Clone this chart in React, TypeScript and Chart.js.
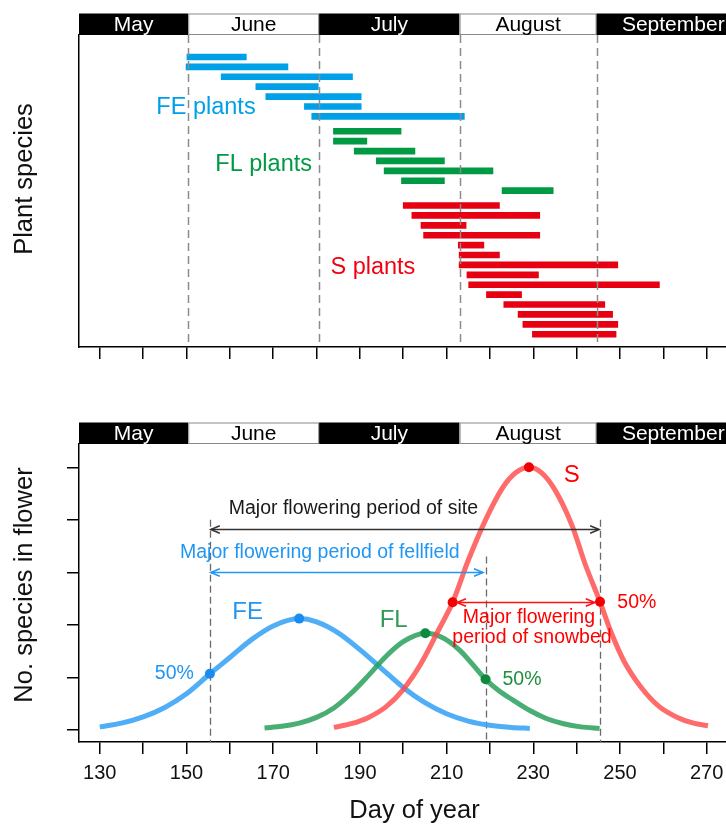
import React, { useEffect, useRef } from 'react';
import { Chart, registerables } from 'chart.js';

Chart.register(...registerables);

const FONT = '"Liberation Sans", Arial, Helvetica, sans-serif';

// ---------- Shared axis data ----------
const monthNames = ['May', 'June', 'July', 'August', 'September'];
const monthEdges = [150.4, 180.6, 213.0, 244.6]; // day-of-year boundaries between months
const xTickDays = [130, 140, 150, 160, 170, 180, 190, 200, 210, 220, 230, 240, 250, 260, 270];
const xLabelDays = [130, 150, 170, 190, 210, 230, 250, 270];
const yCountTicks = [0, 1, 2, 3, 4, 5];

// ---------- Top panel: flowering period of each species ----------
const feRows = [1, 2, 3, 4, 5, 6, 7];
const feStart = [150.1, 149.9, 158.0, 166.0, 168.3, 177.2, 178.9];
const feEnd = [163.8, 173.4, 188.3, 180.4, 190.3, 190.3, 214.1];

const flRows = [8.5, 9.5, 10.5, 11.5, 12.5, 13.5, 14.5];
const flStart = [183.9, 183.9, 188.7, 193.8, 195.6, 199.6, 222.8];
const flEnd = [199.5, 191.6, 202.7, 209.5, 220.7, 209.5, 234.6];

const sRows = [16, 17, 18, 19, 20, 21, 22, 23, 24, 25, 26, 27, 28, 29];
const sStart = [200.0, 202.0, 204.1, 204.7, 212.7, 212.9, 212.9, 214.7, 215.1, 219.2, 223.2, 226.5, 227.6, 229.8];
const sEnd = [222.2, 231.5, 214.5, 231.5, 218.6, 222.2, 249.5, 231.2, 259.1, 227.3, 246.5, 248.3, 249.5, 249.1];

// ---------- Bottom panel: number of species in flower ----------
const feDays = [130, 135, 140, 145, 150, 155.4, 160, 165, 170, 176, 180, 185, 190, 195, 200, 205, 210, 215, 220, 225, 229.2];
const feVals = [0.06, 0.13, 0.25, 0.43, 0.69, 1.07, 1.38, 1.72, 1.98, 2.12, 2.06, 1.85, 1.53, 1.17, 0.81, 0.52, 0.31, 0.17, 0.09, 0.05, 0.03];

const flDays = [168, 172, 176, 180, 184, 188, 192, 196, 200, 205.1, 209, 213, 216, 219, 222, 225.3, 229, 233, 237, 241, 245.3];
const flVals = [0.04, 0.07, 0.13, 0.24, 0.42, 0.7, 1.04, 1.4, 1.68, 1.84, 1.76, 1.52, 1.25, 0.965, 0.75, 0.57, 0.38, 0.22, 0.12, 0.06, 0.03];

const sDays = [184, 188, 192, 196, 200, 204, 208, 211.4, 215, 219, 223, 226, 229, 232, 235, 239, 242, 245.4, 248, 251, 255, 259, 263, 267, 270.3];
const sVals = [0.05, 0.12, 0.24, 0.44, 0.77, 1.25, 1.88, 2.43, 3.23, 4.0, 4.62, 4.9, 5.0, 4.89, 4.57, 3.88, 3.15, 2.44, 1.85, 1.3, 0.8, 0.45, 0.25, 0.13, 0.08];

// peak and 50% points
const feMarkDays = [176, 155.4];
const feMarkVals = [2.12, 1.07];
const flMarkDays = [205.1, 219];
const flMarkVals = [1.84, 0.965];
const sMarkDays = [229, 211.4, 245.4];
const sMarkVals = [5.0, 2.43, 2.44];

// annotation content (day / count units)
const periodLines = [
  { day: 155.5, top: 4.0 },
  { day: 219.0, top: 3.3 },
  { day: 245.4, top: 4.0 },
];
const periodArrows = [
  { from: 155.6, to: 245.2, y: 3.82, color: '#333333' },
  { from: 155.6, to: 218.4, y: 3.0, color: '#2196f3' },
  { from: 212.4, to: 244.2, y: 2.44, color: '#ff1010' },
];
const bottomTexts = [
  { text: 'Major flowering period of site', day: 188.5, y: 4.22, color: '#1a1a1a', size: 19.5 },
  { text: 'Major flowering period of fellfield', day: 180.75, y: 3.37, color: '#2196f3', size: 19.5 },
  { text: 'Major flowering', day: 229.0, y: 2.13, color: '#ff0000', size: 19.5 },
  { text: 'period of snowbed', day: 229.7, y: 1.76, color: '#ff0000', size: 19.5 },
  { text: 'S', day: 238.9, y: 4.85, color: '#ff0000', size: 24 },
  { text: '50%', day: 253.9, y: 2.42, color: '#ff0000', size: 19.5 },
  { text: 'FE', day: 164.1, y: 2.23, color: '#2196f3', size: 24 },
  { text: 'FL', day: 197.8, y: 2.09, color: '#2e9a55', size: 24 },
  { text: '50%', day: 147.2, y: 1.07, color: '#2196f3', size: 19.5 },
  { text: '50%', day: 227.4, y: 0.95, color: '#1f8f3f', size: 19.5 },
];
const topTexts = [
  { text: 'FE plants', day: 154.5, row: 6.15, color: '#00a0e9', size: 23.5 },
  { text: 'FL plants', day: 167.8, row: 11.9, color: '#009944', size: 23.5 },
  { text: 'S plants', day: 193.0, row: 22.3, color: '#f00010', size: 23.5 },
];

const X_MIN = 125.2;
const X_MAX = 280;

function drawMonthBand(chart: any) {
  const { ctx, chartArea, scales } = chart;
  const x = scales.x;
  const h = 21.5;
  const top = chartArea.top - h;
  const edges = [chartArea.left, ...monthEdges.map((d) => x.getPixelForValue(d)), chartArea.right];
  ctx.save();
  for (let i = 0; i < monthNames.length; i++) {
    const x0 = edges[i];
    const x1 = edges[i + 1];
    const dark = i % 2 === 0;
    ctx.fillStyle = dark ? '#000000' : '#ffffff';
    ctx.fillRect(x0, top, x1 - x0, h);
    if (!dark) {
      ctx.strokeStyle = '#8a8a8a';
      ctx.lineWidth = 1;
      ctx.strokeRect(x0 + 0.5, top + 0.5, x1 - x0 - 1, h - 1);
    }
    ctx.fillStyle = dark ? '#ffffff' : '#000000';
    ctx.font = `21px ${FONT}`;
    ctx.textAlign = 'center';
    ctx.textBaseline = 'middle';
    ctx.fillText(monthNames[i], (x0 + x1) / 2, top + h / 2 + 0.5);
  }
  ctx.restore();
}

function drawYTitle(chart: any, text: string, cy: number) {
  const ctx = chart.ctx;
  ctx.save();
  ctx.translate(24.5, cy);
  ctx.rotate(-Math.PI / 2);
  ctx.font = `25.5px ${FONT}`;
  ctx.fillStyle = '#111111';
  ctx.textAlign = 'center';
  ctx.textBaseline = 'middle';
  ctx.fillText(text, 0, 0);
  ctx.restore();
}

const topPlugin = {
  id: 'topDecor',
  afterDatasetsDraw(chart: any) {
    const { ctx, chartArea, scales } = chart;
    ctx.save();
    for (const t of topTexts) {
      ctx.font = `${t.size}px ${FONT}`;
      ctx.fillStyle = t.color;
      ctx.textAlign = 'center';
      ctx.textBaseline = 'middle';
      ctx.fillText(t.text, scales.x.getPixelForValue(t.day), scales.y.getPixelForValue(t.row));
    }
    ctx.strokeStyle = '#8c8c8c';
    ctx.lineWidth = 1.5;
    ctx.setLineDash([8, 5]);
    for (const d of monthEdges) {
      const px = Math.round(scales.x.getPixelForValue(d)) + 0.5;
      ctx.beginPath();
      ctx.moveTo(px, chartArea.top);
      ctx.lineTo(px, chartArea.bottom);
      ctx.stroke();
    }
    ctx.restore();
  },
  afterDraw(chart: any) {
    drawMonthBand(chart);
    drawYTitle(chart, 'Plant species', chart.chartArea.top + 144);
  },
};

function drawArrowHead(ctx: any, tipX: number, y: number, dir: number) {
  ctx.beginPath();
  ctx.moveTo(tipX + dir * 9, y - 3.8);
  ctx.lineTo(tipX, y);
  ctx.lineTo(tipX + dir * 9, y + 3.8);
  ctx.stroke();
}

const bottomPlugin = {
  id: 'bottomDecor',
  beforeDatasetsDraw(chart: any) {
    const { ctx, chartArea, scales } = chart;
    ctx.save();
    ctx.strokeStyle = '#6a6a6a';
    ctx.lineWidth = 1.3;
    ctx.setLineDash([7, 4]);
    for (const l of periodLines) {
      const px = Math.round(scales.x.getPixelForValue(l.day)) + 0.5;
      ctx.beginPath();
      ctx.moveTo(px, scales.y.getPixelForValue(l.top));
      ctx.lineTo(px, chartArea.bottom);
      ctx.stroke();
    }
    ctx.restore();
  },
  afterDatasetsDraw(chart: any) {
    const { ctx, scales } = chart;
    ctx.save();
    ctx.setLineDash([]);
    for (const a of periodArrows) {
      const x0 = scales.x.getPixelForValue(a.from);
      const x1 = scales.x.getPixelForValue(a.to);
      const y = Math.round(scales.y.getPixelForValue(a.y)) + 0.5;
      ctx.strokeStyle = a.color;
      ctx.lineWidth = 1.5;
      ctx.beginPath();
      ctx.moveTo(x0, y);
      ctx.lineTo(x1, y);
      ctx.stroke();
      drawArrowHead(ctx, x0, y, 1);
      drawArrowHead(ctx, x1, y, -1);
    }
    for (const t of bottomTexts) {
      ctx.font = `${t.size}px ${FONT}`;
      ctx.fillStyle = t.color;
      ctx.textAlign = 'center';
      ctx.textBaseline = 'middle';
      ctx.fillText(t.text, scales.x.getPixelForValue(t.day), scales.y.getPixelForValue(t.y));
    }
    ctx.restore();
  },
  afterDraw(chart: any) {
    drawMonthBand(chart);
    drawYTitle(chart, 'No. species in flower', chart.chartArea.top + 141);
  },
};

const toBars = (rows: number[], s: number[], e: number[]) => rows.map((r, i) => ({ x: [s[i], e[i]], y: r }));
const toPts = (xs: number[], ys: number[]) => xs.map((d, i) => ({ x: d, y: ys[i] }));

const axisX = (height: number, showLabels: boolean) => ({
  type: 'linear',
  position: 'bottom',
  min: X_MIN,
  max: X_MAX,
  beginAtZero: false,
  afterBuildTicks: (axis: any) => {
    axis.ticks = xTickDays.map((v) => ({ value: v }));
  },
  afterFit: (s: any) => {
    s.height = height;
  },
  ticks: {
    display: showLabels,
    padding: 7,
    color: '#111111',
    font: { size: 20, family: FONT },
    maxRotation: 0,
    autoSkip: false,
    callback: (v: any) => (xLabelDays.includes(Number(v)) ? String(v) : ''),
  },
  grid: { display: true, drawOnChartArea: false, drawTicks: true, tickLength: 12, color: '#000000', lineWidth: 1.5 },
  border: { display: true, color: '#000000', width: 1.5 },
  title: {
    display: showLabels,
    text: 'Day of year',
    color: '#111111',
    font: { size: 25.5, family: FONT },
    padding: { top: 0, bottom: -1.5 },
  },
});

export default function App() {
  const topRef = useRef<HTMLCanvasElement>(null);
  const botRef = useRef<HTMLCanvasElement>(null);

  useEffect(() => {
    Chart.defaults.font.family = FONT;
    const top = new Chart(topRef.current as HTMLCanvasElement, {
      type: 'bar',
      data: {
        datasets: [
          { data: toBars(feRows, feStart, feEnd), backgroundColor: '#00a0e9', borderWidth: 0, grouped: false, barThickness: 6 },
          { data: toBars(flRows, flStart, flEnd), backgroundColor: '#009944', borderWidth: 0, grouped: false, barThickness: 6 },
          { data: toBars(sRows, sStart, sEnd), backgroundColor: '#e60012', borderWidth: 0, grouped: false, barThickness: 6 },
        ] as any,
      },
      options: {
        indexAxis: 'y',
        responsive: false,
        animation: false,
        events: [],
        layout: { padding: { top: 35, right: 10, left: 0, bottom: 0 } },
        plugins: { legend: { display: false }, tooltip: { enabled: false } },
        scales: {
          x: axisX(53, false) as any,
          y: {
            type: 'linear',
            reverse: true,
            min: -1.22,
            max: 30.29,
            offset: false,
            afterFit: (s: any) => {
              s.width = 79;
            },
            ticks: { display: false },
            grid: { display: false, offset: false },
            border: { display: true, color: '#000000', width: 1.5 },
          } as any,
        },
      },
      plugins: [topPlugin],
    });

    const bottom = new Chart(botRef.current as HTMLCanvasElement, {
      type: 'line',
      data: {
        datasets: [
          { data: toPts(feMarkDays, feMarkVals), showLine: false, pointRadius: 5, pointBackgroundColor: '#1a8cf0', pointBorderWidth: 0, order: 0 },
          { data: toPts(flMarkDays, flMarkVals), showLine: false, pointRadius: 5, pointBackgroundColor: '#0d8a3e', pointBorderWidth: 0, order: 0 },
          { data: toPts(sMarkDays, sMarkVals), showLine: false, pointRadius: 5, pointBackgroundColor: '#f00000', pointBorderWidth: 0, order: 0 },
          { data: toPts(sDays, sVals), borderColor: 'rgba(255,70,70,0.8)', borderWidth: 5, pointRadius: 0, cubicInterpolationMode: 'monotone', order: 1 },
          { data: toPts(flDays, flVals), borderColor: 'rgba(40,160,90,0.85)', borderWidth: 5, pointRadius: 0, cubicInterpolationMode: 'monotone', order: 2 },
          { data: toPts(feDays, feVals), borderColor: 'rgba(60,165,245,0.9)', borderWidth: 5, pointRadius: 0, cubicInterpolationMode: 'monotone', order: 3 },
        ] as any,
      },
      options: {
        responsive: false,
        animation: false,
        events: [],
        layout: { padding: { top: 44, right: 10, left: 0, bottom: 0 } },
        plugins: { legend: { display: false }, tooltip: { enabled: false } },
        scales: {
          x: axisX(83, true) as any,
          y: {
            type: 'linear',
            min: -0.228,
            max: 5.443,
            afterBuildTicks: (axis: any) => {
              axis.ticks = yCountTicks.map((v) => ({ value: v }));
            },
            afterFit: (s: any) => {
              s.width = 79;
            },
            ticks: { display: false },
            grid: { display: true, drawOnChartArea: false, drawTicks: true, tickLength: 12, color: '#000000', lineWidth: 1.5 },
            border: { display: true, color: '#000000', width: 1.5 },
          } as any,
        },
      },
      plugins: [bottomPlugin],
    });

    return () => {
      top.destroy();
      bottom.destroy();
    };
  }, []);

  return (
    <div style={{ position: 'fixed', left: 0, top: 0, width: 726, height: 825, overflow: 'hidden', background: '#ffffff' }}>
      <canvas ref={topRef} width={760} height={400} style={{ position: 'absolute', left: 0, top: 0, display: 'block' }} />
      <canvas ref={botRef} width={760} height={425} style={{ position: 'absolute', left: 0, top: 400, display: 'block' }} />
    </div>
  );
}
